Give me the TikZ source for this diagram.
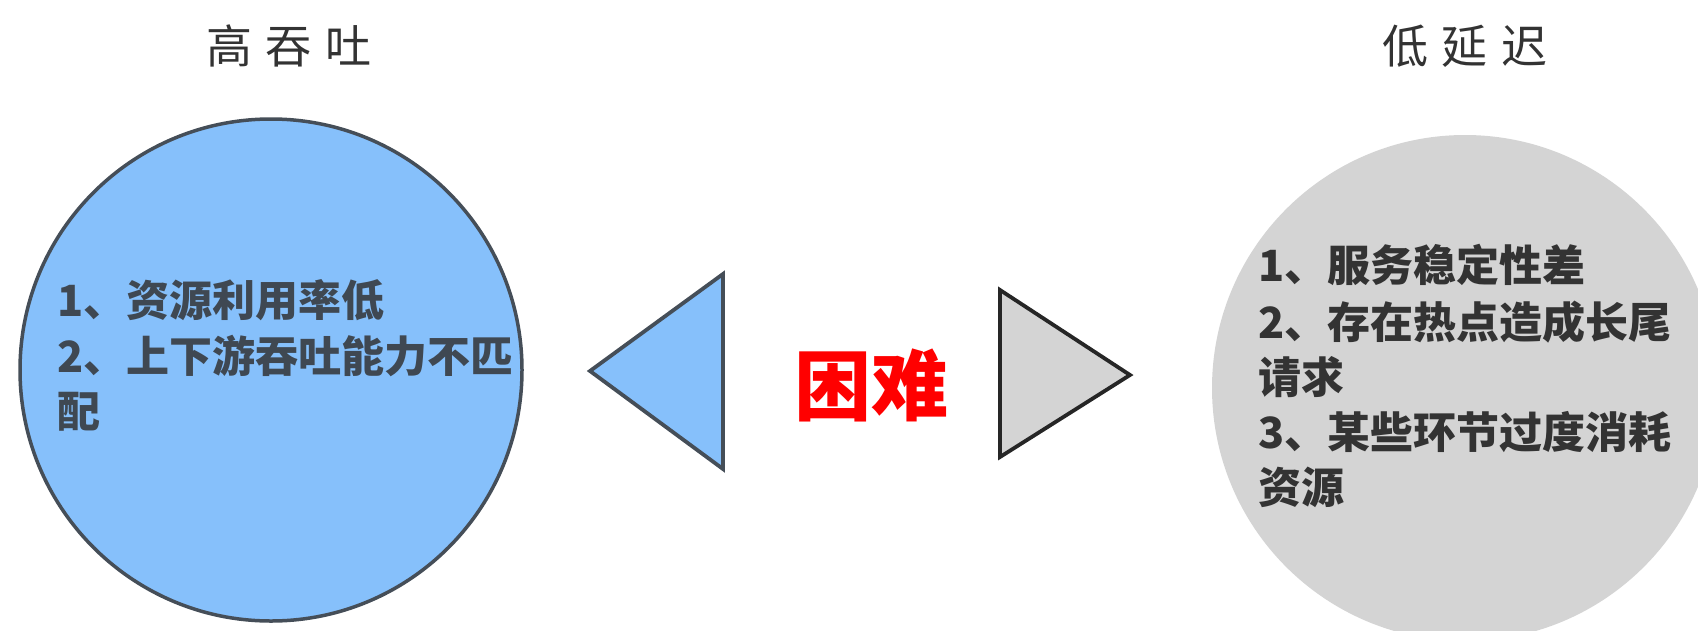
\documentclass[tikz,border=0pt]{standalone}
\usepackage{fontspec}
\newfontfamily\cjk{Noto Sans CJK SC}
\definecolor{circblue}{HTML}{86C0FB}
\definecolor{edgeblue}{HTML}{454E58}
\definecolor{circgray}{HTML}{D4D4D4}
\definecolor{txtblue}{HTML}{3F4852}
\definecolor{txtgray}{HTML}{333333}
\begin{document}
\begin{tikzpicture}[x=1pt,y=-1pt,
  title/.style={font=\cjk\fontsize{46}{50}\selectfont, text=txtgray, inner sep=0pt},
  ltxt/.style={font=\cjk\bfseries\fontsize{43}{56}\selectfont, text=txtblue, anchor=west, inner sep=0pt},
  rtxt/.style={font=\cjk\bfseries\fontsize{43}{56}\selectfont, text=txtgray, anchor=west, inner sep=0pt},
  tri/.style={line width=3.8pt, line join=miter}
]
\useasboundingbox (0,0) rectangle (1698,630);
\clip (0,0) rectangle (1698,630);
% circles
\node[circle, draw=edgeblue, fill=circblue, line width=3.5pt, minimum size=502pt, inner sep=0pt] (high) at (271,370) {};
\node[circle, fill=circgray, minimum size=506pt, inner sep=0pt] (low) at (1465,388) {};
% titles
\node[title] (thigh) at (289,46) {高\hspace{14pt}吞\hspace{14pt}吐};
\node[title] (tlow) at (1465,46) {低\hspace{14pt}延\hspace{14pt}迟};
% triangles
\draw[tri, draw=edgeblue, fill=circblue] (590,371) -- (723,274) -- (723,469) -- cycle;
\draw[tri, draw=black!85, fill=circgray] (1000,290) -- (1130,375) -- (1000,457) -- cycle;
% centre text
\node[font=\cjk\bfseries\fontsize{77}{80}\selectfont, text=red, inner sep=0pt] (hard) at (871,385) {困难};
% left text
\node[ltxt] (h1) at (57,300) {1、资源利用率低};
\node[ltxt] (h2) at (57,356) {2、上下游吞吐能力不匹};
\node[ltxt] (h3) at (57,412) {配};
% right text
\node[rtxt] (l1) at (1258,265) {1、服务稳定性差};
\node[rtxt] (l2) at (1258,322) {2、存在热点造成长尾};
\node[rtxt] (l3) at (1258,377) {请求};
\node[rtxt] (l4) at (1258,432) {3、某些环节过度消耗};
\node[rtxt] (l5) at (1258,487) {资源};
\end{tikzpicture}
\end{document}
